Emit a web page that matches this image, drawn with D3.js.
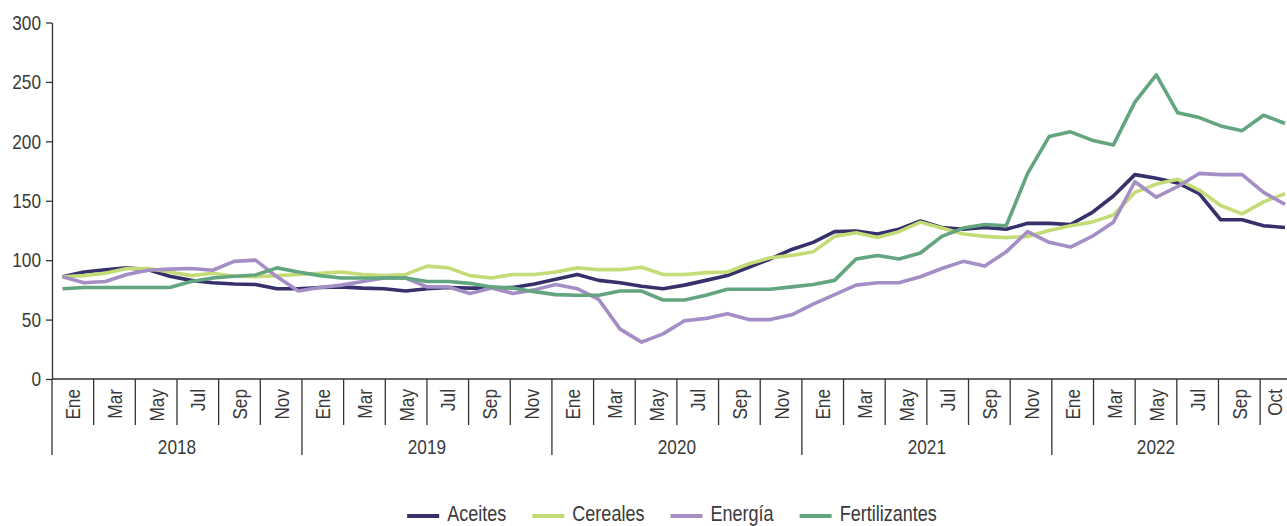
<!DOCTYPE html>
<html>
<head>
<meta charset="utf-8">
<script src="https://cdn.jsdelivr.net/npm/d3@7"></script>
<style>
  html, body { margin: 0; padding: 0; background: #fff; }
  svg { display: block; font-family: "Liberation Sans", Arial, sans-serif; }
  .axis text, .lbl { fill: #3a3a3a; }
</style>
</head>
<body>
<div id="chart"></div>
<script>
// monthly index values, Ene 2018 .. Oct 2022
var years = ["2018", "2019", "2020", "2021", "2022"];
var meses = ["Ene", "Feb", "Mar", "Abr", "May", "Jun", "Jul", "Ago", "Sep", "Oct", "Nov", "Dic"];
var mesesPorAnio = [12, 12, 12, 12, 10];
// labels shown on the category axis (one per two-month cell)
var tickLabels = [
  "Ene", "Mar", "May", "Jul", "Sep", "Nov",
  "Ene", "Mar", "May", "Jul", "Sep", "Nov",
  "Ene", "Mar", "May", "Jul", "Sep", "Nov",
  "Ene", "Mar", "May", "Jul", "Sep", "Nov",
  "Ene", "Mar", "May", "Jul", "Sep", "Oct"
];
var yTicks = [0, 50, 100, 150, 200, 250, 300];

var aceites = [
  86, 90, 92, 93.5, 92, 86.5, 83, 81, 80, 79.5, 76, 76,
  77, 77.5, 76.5, 76, 74, 76, 77, 76.5, 76.5, 77, 80, 84,
  88, 83, 81, 78, 76, 79, 83, 87, 94, 101, 109, 115,
  124, 124.5, 122, 126, 133, 127.5, 126, 127.5, 126, 131, 131, 130,
  140, 154, 172, 169, 165, 156, 134, 134, 129, 127.5
];
var cereales = [
  86, 87, 89, 93, 93, 90, 87, 89, 86.5, 86, 87, 88,
  89, 90, 88, 87, 88, 95, 93.5, 87, 85, 88, 88, 90,
  93.5, 92, 92, 94, 88, 88, 89.5, 90, 97, 102, 104, 107,
  120, 123, 119, 124, 132, 127, 122, 120, 119, 120, 125, 129,
  132, 138, 157, 164, 168, 159, 146, 139, 149, 156
];
var energia = [
  86, 81, 82, 88, 91.5, 92.5, 93, 91.5, 99, 100, 86, 74,
  77, 79, 82, 85, 85, 77.5, 77.5, 72, 76.5, 72, 75, 79.5,
  76, 67, 42, 31, 38, 49, 51, 55, 50, 50, 54, 63,
  71, 79, 81, 81, 86, 93, 99, 95, 107, 124, 115, 111,
  120, 132, 166, 153, 162, 173, 172, 172, 157, 147
];
var fertilizantes = [
  76, 77, 77, 77, 77, 77, 82, 85, 86.5, 87.5, 93.5, 90,
  87, 85, 85, 85, 85, 82, 82, 80.5, 77.5, 76.5, 73.5, 71,
  70.5, 70.5, 74, 74, 66.5, 66.5, 70.5, 75.5, 75.5, 75.5, 77.5, 79.5,
  83, 101, 104, 101, 106, 120, 127, 130, 129, 173, 204, 208,
  201, 197, 233, 256, 224, 220, 213, 209, 222, 215
];

var series = [
  {name: "Aceites", values: aceites, color: "#36316b"},
  {name: "Cereales", values: cereales, color: "#c3dc77"},
  {name: "Energía", values: energia, color: "#a48ec5"},
  {name: "Fertilizantes", values: fertilizantes, color: "#62a57e"}
];

var width = 1287, height = 526;
var narrow = 0.82; // horizontal squeeze to mimic the condensed face

var svg = d3.select("#chart").append("svg")
    .attr("width", width)
    .attr("height", height);

var left = 52, axisY = 379;

// month keys actually in the data
var monthKeys = [];
years.forEach(function (yr, i) {
  for (var m = 0; m < mesesPorAnio[i]; m++) monthKeys.push(yr + "-" + meses[m]);
});

// slot scale for the category axis (full years, 2 months per cell)
var slotKeys = [];
years.forEach(function (yr) { meses.forEach(function (m) { slotKeys.push(yr + "-" + m); }); });
var xSlot = d3.scaleBand().domain(slotKeys).range([left, left + 60 * 20.83]);

var x = d3.scalePoint().domain(monthKeys).range([62.5, 1285]);
var y = d3.scaleLinear().domain([0, 300]).range([axisY, 22.5]);

// y axis
var gY = svg.append("g")
    .attr("class", "axis")
    .attr("transform", "translate(" + left + ",0)")
    .call(d3.axisLeft(y).tickValues(yTicks).tickSize(6).tickSizeOuter(0).tickPadding(5));
gY.selectAll("text")
    .style("font-size", "21px")
    .attr("x", -11 / narrow)
    .attr("transform", "scale(" + narrow + ",1)");
gY.selectAll("line, path").attr("stroke", "#333").attr("stroke-width", 1.3);

// x axis baseline
svg.append("line")
    .attr("x1", left).attr("x2", width)
    .attr("y1", axisY).attr("y2", axisY)
    .attr("stroke", "#333").attr("stroke-width", 1.3);

// two-month cells
var cells = tickLabels.map(function (lab, i) {
  return {label: lab, start: slotKeys[i * 2], end: slotKeys[i * 2 + 1], first: i % 6 === 0};
});

var gX = svg.append("g").attr("class", "axis");
gX.selectAll("line.sep")
    .data(cells)
    .enter().append("line")
    .attr("class", "sep")
    .attr("x1", function (d) { return xSlot(d.start); })
    .attr("x2", function (d) { return xSlot(d.start); })
    .attr("y1", axisY)
    .attr("y2", function (d) { return d.first ? 455 : 425; })
    .attr("stroke", "#333").attr("stroke-width", 1.3);

gX.selectAll("text.mes")
    .data(cells)
    .enter().append("text")
    .attr("class", "mes")
    .attr("transform", function (d) {
      var cx = (xSlot(d.start) + xSlot(d.end) + xSlot.bandwidth()) / 2;
      cx = Math.min(cx, width - 13); // last cell runs past the edge
      return "translate(" + cx + ",389) rotate(-90) scale(" + narrow + ",1)";
    })
    .attr("text-anchor", "end")
    .attr("dy", "0.36em")
    .style("font-size", "21px")
    .text(function (d) { return d.label; });

gX.selectAll("text.anio")
    .data(years)
    .enter().append("text")
    .attr("class", "anio")
    .attr("transform", function (d, i) {
      var a = xSlot(d + "-Ene");
      var b = xSlot(d + "-" + meses[mesesPorAnio[i] - 1]) + xSlot.bandwidth();
      return "translate(" + ((a + b) / 2) + ",454) scale(" + narrow + ",1)";
    })
    .attr("text-anchor", "middle")
    .style("font-size", "21px")
    .text(function (d) { return d; });

// lines
var line = d3.line()
    .x(function (d, i) { return x(monthKeys[i]); })
    .y(function (d) { return y(d); });

svg.append("g").selectAll("path")
    .data(series)
    .enter().append("path")
    .attr("d", function (d) { return line(d.values); })
    .attr("fill", "none")
    .attr("stroke", function (d) { return d.color; })
    .attr("stroke-width", 3.6)
    .attr("stroke-linejoin", "round");

// legend
var legend = svg.append("g");
var items = legend.selectAll("g")
    .data(series)
    .enter().append("g");
items.append("line")
    .attr("x1", 0).attr("x2", 32)
    .attr("y1", 516).attr("y2", 516)
    .attr("stroke", function (d) { return d.color; })
    .attr("stroke-width", 4);
items.append("text")
    .attr("class", "lbl")
    .attr("transform", "translate(40,521) scale(" + narrow + ",1)")
    .style("font-size", "22px")
    .text(function (d) { return d.name; });

var widths = [];
items.each(function () {
  widths.push(40 + this.querySelector("text").getComputedTextLength() * narrow);
});
var gap = 26;
var total = d3.sum(widths) + gap * (series.length - 1);
var pos = 672 - total / 2;
items.attr("transform", function (d, i) {
  var t = "translate(" + pos + ",0)";
  pos += widths[i] + gap;
  return t;
});
</script>
</body>
</html>
